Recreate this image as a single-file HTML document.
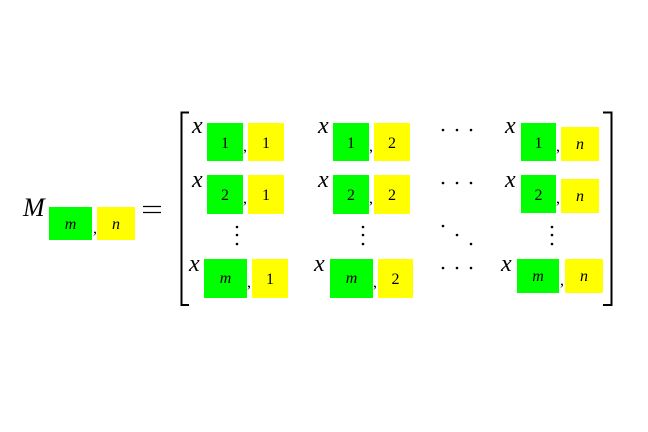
<!DOCTYPE html>
<html><head><style>html,body{margin:0;padding:0;background:#fff}svg{display:block}</style></head>
<body>
<svg width="648" height="432" viewBox="0 0 648 432" xmlns="http://www.w3.org/2000/svg" font-family="Liberation Serif, serif">
<rect width="648" height="432" fill="#fff"/>
<!-- LHS -->
<text x="23" y="216" font-size="26" font-style="italic">M</text>
<rect x="49" y="207" width="43" height="33" fill="#00ff00"/>
<rect x="97" y="207" width="38" height="33" fill="#ffff00"/>
<text x="70.5" y="229" font-size="16" font-style="italic" text-anchor="middle">m</text>
<text x="93" y="233" font-size="16">,</text>
<text x="116" y="229" font-size="16" font-style="italic" text-anchor="middle">n</text>
<path d="M143,206.5 H161 M143,212.5 H161" stroke="#000" stroke-width="1.2"/>
<!-- brackets -->
<path d="M189,112.5 H181.5 V305 H189" fill="none" stroke="#000" stroke-width="2"/>
<path d="M603,112.5 H611.5 V305 H603" fill="none" stroke="#000" stroke-width="2"/>
<g font-size="24" font-style="italic">
<text x="192" y="133">x</text><text x="318" y="133">x</text><text x="505" y="133">x</text>
<text x="192" y="187">x</text><text x="318" y="187">x</text><text x="505" y="187">x</text>
<text x="189" y="271">x</text><text x="314" y="271">x</text><text x="501" y="271">x</text>
</g>
<!-- row 1 -->
<rect x="207" y="123" width="36" height="38" fill="#00ff00"/><rect x="248" y="123" width="36" height="38" fill="#ffff00"/>
<rect x="333" y="123" width="36" height="38" fill="#00ff00"/><rect x="374" y="123" width="36" height="38" fill="#ffff00"/>
<rect x="521" y="123" width="35" height="38" fill="#00ff00"/><rect x="561" y="127" width="38" height="34" fill="#ffff00"/>
<!-- row 2 -->
<rect x="207" y="175" width="36" height="39" fill="#00ff00"/><rect x="248" y="175" width="36" height="39" fill="#ffff00"/>
<rect x="333" y="175" width="36" height="39" fill="#00ff00"/><rect x="374" y="175" width="36" height="39" fill="#ffff00"/>
<rect x="521" y="175" width="35" height="38" fill="#00ff00"/><rect x="561" y="179" width="38" height="34" fill="#ffff00"/>
<!-- row 3 -->
<rect x="204" y="259" width="43" height="39" fill="#00ff00"/><rect x="252" y="259" width="36" height="39" fill="#ffff00"/>
<rect x="330" y="259" width="43" height="39" fill="#00ff00"/><rect x="378" y="259" width="35" height="39" fill="#ffff00"/>
<rect x="517" y="259" width="42" height="34" fill="#00ff00"/><rect x="565" y="259" width="38" height="34" fill="#ffff00"/>
<g font-size="16" text-anchor="middle">
<text x="225" y="148">1</text><text x="266" y="148">1</text>
<text x="351" y="148">1</text><text x="392" y="148">2</text>
<text x="538.5" y="148">1</text><text x="580" y="149" font-style="italic">n</text>
<text x="225" y="200">2</text><text x="266" y="200">1</text>
<text x="351" y="200">2</text><text x="392" y="200">2</text>
<text x="538.5" y="200">2</text><text x="580" y="201" font-style="italic">n</text>
<text x="225.5" y="283" font-style="italic">m</text><text x="270" y="284">1</text>
<text x="351.5" y="283" font-style="italic">m</text><text x="395.5" y="284">2</text>
<text x="538" y="281" font-style="italic">m</text><text x="584" y="281" font-style="italic">n</text>
</g>
<g font-size="16">
<text x="243" y="151">,</text><text x="369" y="151">,</text><text x="556" y="151">,</text>
<text x="243" y="203">,</text><text x="369" y="203">,</text><text x="556" y="203">,</text>
<text x="247" y="287">,</text><text x="373" y="287">,</text><text x="560" y="285">,</text>
</g>
<!-- dots -->
<g fill="#000">
<circle cx="443" cy="130" r="1.3"/><circle cx="457" cy="130" r="1.3"/><circle cx="471" cy="130" r="1.3"/>
<circle cx="443" cy="183" r="1.3"/><circle cx="457" cy="183" r="1.3"/><circle cx="471" cy="183" r="1.3"/>
<circle cx="443" cy="268" r="1.3"/><circle cx="457" cy="268" r="1.3"/><circle cx="471" cy="268" r="1.3"/>
<circle cx="443" cy="226" r="1.3"/><circle cx="457" cy="235" r="1.3"/><circle cx="471" cy="244" r="1.3"/>
<circle cx="237" cy="227" r="1.3"/><circle cx="237" cy="235" r="1.3"/><circle cx="237" cy="244" r="1.3"/>
<circle cx="363" cy="227" r="1.3"/><circle cx="363" cy="235" r="1.3"/><circle cx="363" cy="244" r="1.3"/>
<circle cx="552" cy="227" r="1.3"/><circle cx="552" cy="235" r="1.3"/><circle cx="552" cy="244" r="1.3"/>
</g>
</svg>
</body></html>
